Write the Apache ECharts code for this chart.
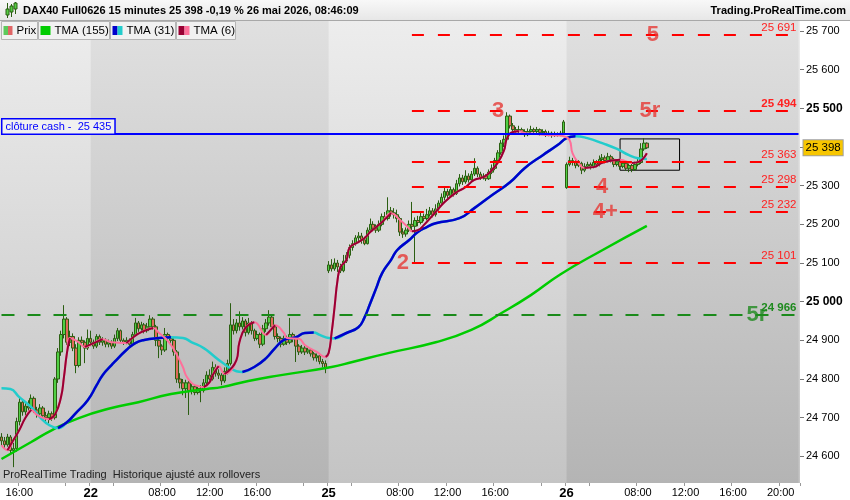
<!DOCTYPE html>
<html><head><meta charset="utf-8">
<script src="https://cdn.jsdelivr.net/npm/echarts/dist/echarts.min.js"></script>
<style>html,body{margin:0;padding:0;background:#fff}#c{width:850px;height:500px}</style>
</head><body><div id="c"></div>
<script>
// sessions: [day, first bar time, number of 15-min bars on the axis]
const sessions = [['21','14:30',30],['22','02:00',80],['25','02:00',80],['26','02:00',79]];

// OHLC rows: [open, close, low, high]
const candles = [
[24650,24640,24628,24660],[24640,24630,24620,24650],[24630,24650,24625,24658],[24650,24615,24608,24655],[24615,24620,24572,24635],
[24620,24690,24612,24700],[24690,24740,24680,24755],[24740,24715,24705,24748],[24715,24730,24705,24742],[24730,24725,24712,24745],
[24725,24750,24718,24760],[24750,24720,24712,24755],[24720,24710,24700,24728],[24710,24725,24702,24735],[24725,24705,24698,24730],
[24705,24700,24690,24715],[24700,24710,24685,24718],[24710,24700,24692,24716],[24700,24800,24695,24805],[24800,24870,24790,24880],
[24870,24915,24860,24925],[24915,24955,24905,24991],[24955,24895,24888,24960],[24895,24910,24885,24925],[24910,24880,24872,24918],
[24880,24835,24815,24890],[24835,24900,24830,24908],[24900,24895,24885,24910],[24895,24880,24841,24900],[24880,24905,24875,24928],
[24905,24895,24885,24925],[24895,24885,24878,24902],[24885,24910,24880,24916],[24910,24895,24888,24915],[24895,24900,24886,24908],
[24900,24890,24882,24905],[24890,24895,24882,24902],[24895,24885,24878,24900],[24885,24905,24880,24915],[24905,24925,24898,24932],
[24925,24900,24893,24928],[24900,24895,24888,24905],[24895,24900,24890,24908],[24900,24890,24884,24905],[24890,24915,24886,24922],
[24915,24945,24910,24958],[24945,24930,24922,24950],[24930,24940,24925,24948],[24940,24925,24918,24945],[24925,24935,24920,24945],
[24935,24955,24930,24965],[24955,24935,24928,24960],[24935,24900,24885,24940],[24900,24885,24854,24905],[24885,24875,24862,24890],
[24875,24915,24870,24932],[24915,24905,24898,24920],[24905,24900,24892,24912],[24900,24870,24860,24905],[24870,24800,24790,24875],
[24800,24790,24776,24815],[24790,24775,24758,24800],[24775,24790,24751,24798],[24790,24770,24707,24795],[24770,24780,24760,24788],
[24780,24765,24758,24786],[24765,24775,24760,24782],[24775,24770,24740,24784],[24770,24790,24765,24800],[24790,24810,24785,24820],
[24810,24800,24792,24825],[24800,24830,24796,24845],[24830,24815,24806,24838],[24815,24810,24800,24825],[24810,24795,24784,24815],
[24795,24820,24790,24830],[24820,24840,24812,24850],[24840,24940,24835,24996],[24940,24925,24915,24955],[24925,24945,24918,24955],
[24945,24935,24925,24975],[24935,24950,24928,24960],[24950,24920,24910,24955],[24920,24945,24915,24958],[24945,24925,24915,24950],
[24925,24905,24898,24930],[24905,24915,24900,24925],[24915,24890,24880,24920],[24890,24930,24885,24940],[24930,24945,24922,24955],
[24945,24960,24938,24978],[24960,24935,24928,24965],[24935,24910,24902,24940],[24910,24905,24895,24918],[24905,24890,24882,24910],
[24890,24905,24886,24912],[24905,24895,24888,24912],[24895,24915,24890,24958],[24915,24905,24895,24920],[24905,24885,24844,24910],
[24885,24870,24862,24890],[24870,24880,24865,24888],[24880,24870,24862,24885],[24870,24875,24865,24882],[24875,24865,24858,24880],
[24865,24855,24848,24870],[24855,24860,24845,24866],[24860,24845,24838,24864],[24845,24840,24830,24852],[24840,24830,24815,24848],
[25080,25095,25074,25105],[25095,25085,25078,25110],[25085,25100,25080,25112],[25100,25090,25077,25108],[25090,25080,25074,25098],
[25080,25105,25076,25121],[25105,25120,25100,25128],[25120,25140,25112,25148],[25140,25150,25132,25159],[25150,25165,25145,25172],
[25165,25170,25155,25180],[25170,25160,25150,25178],[25160,25150,25146,25168],[25150,25185,25148,25192],[25185,25200,25178,25215],
[25200,25190,25182,25208],[25190,25185,25178,25200],[25185,25200,25180,25210],[25200,25220,25195,25228],[25220,25215,25208,25232],
[25215,25235,25210,25270],[25235,25230,25220,25245],[25230,25225,25215,25242],[25225,25215,25205,25238],[25215,25180,25170,25220],
[25180,25175,25165,25190],[25175,25185,25168,25192],[25185,25200,25180,25210],[25200,25195,25185,25258],[25195,25210,25100,25218],
[25210,25205,25195,25222],[25205,25220,25200,25230],[25220,25215,25208,25228],[25215,25225,25210,25240],[25225,25235,25220,25245],
[25235,25225,25218,25242],[25225,25240,25220,25252],[25240,25255,25235,25262],[25255,25270,25250,25280],[25270,25285,25262,25294],
[25285,25275,25268,25292],[25275,25290,25270,25298],[25290,25280,25272,25295],[25280,25305,25276,25315],[25305,25320,25298,25330],
[25320,25310,25302,25328],[25310,25325,25305,25340],[25325,25315,25308,25332],[25315,25330,25310,25338],[25330,25345,25325,25371],
[25345,25330,25322,25350],[25330,25320,25315,25336],[25320,25325,25316,25332],[25325,25318,25312,25330],[25318,25335,25315,25342],
[25335,25345,25330,25355],[25345,25365,25340,25372],[25365,25385,25360,25392],[25385,25410,25380,25418],[25410,25420,25400,25430],
[25420,25480,25418,25490],[25480,25455,25448,25484],[25455,25445,25438,25462],[25445,25440,25432,25452],[25440,25445,25435,25455],
[25445,25440,25433,25450],[25440,25432,25426,25446],[25432,25440,25428,25448],[25440,25445,25435,25455],[25445,25440,25432,25450],
[25440,25445,25436,25452],[25445,25438,25430,25448],[25438,25440,25432,25446],[25440,25432,25426,25445],[25432,25436,25428,25442],
[25436,25430,25424,25440],[25430,25434,25426,25440],[25434,25432,25427,25438],[25432,25436,25428,25442],[25436,25465,25432,25470],
[25295,25355,25292,25360],[25355,25365,25350,25375],[25365,25360,25352,25372],[25360,25352,25345,25368],[25352,25358,25348,25366],
[25358,25340,25330,25362],[25340,25350,25335,25358],[25350,25355,25345,25362],[25355,25350,25342,25360],[25350,25360,25345,25368],
[25360,25355,25348,25366],[25355,25368,25350,25378],[25368,25372,25362,25382],[25372,25365,25358,25378],[25365,25375,25360,25385],
[25375,25368,25360,25380],[25368,25355,25348,25372],[25355,25362,25350,25368],[25362,25350,25342,25366],[25350,25358,25345,25364],
[25358,25345,25338,25362],[25345,25352,25335,25358],[25352,25342,25335,25356],[25342,25355,25338,25362],[25355,25360,25350,25370],
[25360,25395,25356,25410],[25395,25410,25390,25423],[25410,25398,25395,25412]
];

// indicator readings: [bar index, value]
const tma155 = [[0,24593],[10,24637],[17,24668],[26,24699],[37,24725],[46,24740],[57,24761],[69,24774],[74,24779],[83,24795],[94,24810],[111,24831],[118,24844],[130,24867],[146,24895],[158,24927],[168,24970],[178,25017],[188,25071],[202,25133],[217,25196]];
const tma31 = [[0,24776],[3,24774],[6,24753],[10,24727],[13,24701],[16,24681],[19,24673],[22,24688],[25,24712],[29,24745],[32,24784],[34,24810],[37,24836],[38,24844],[42,24875],[45,24893],[48,24901],[53,24906],[57,24908],[61,24906],[64,24895],[68,24880],[71,24862],[74,24844],[79,24820],[81,24818],[85,24831],[89,24854],[92,24880],[95,24901],[99,24908],[102,24919],[105,24920],[107,24914],[110,24906],[112,24905],[116,24919],[120,24934],[122,24958],[124,24996],[126,25035],[128,25074],[131,25108],[133,25133],[137,25159],[140,25180],[143,25193],[146,25203],[154,25216],[159,25242],[165,25276],[171,25309],[176,25346],[182,25379],[187,25405],[190,25423],[193,25428],[197,25423],[202,25410],[207,25395],[211,25379],[214,25371],[217,25369]];
const tma6 = [[0,24629],[2,24616],[4,24642],[6,24668],[8,24699],[10,24720],[12,24707],[16,24696],[18,24708],[20,24753],[21,24805],[22,24867],[23,24906],[26,24895],[28,24883],[31,24893],[34,24903],[37,24895],[42,24893],[44,24906],[47,24921],[51,24932],[53,24919],[55,24906],[57,24888],[59,24862],[61,24831],[62,24810],[64,24789],[66,24782],[68,24779],[70,24792],[71,24810],[73,24833],[75,24813],[79,24849],[80,24895],[82,24932],[85,24947],[89,24914],[92,24939],[95,24919],[96,24906],[100,24904],[102,24888],[106,24870],[109,24857],[110,24867],[111,24919],[112,24986],[113,25056],[114,25089],[116,25108],[117,25139],[120,25154],[122,25164],[124,25180],[126,25193],[128,25206],[131,25229],[134,25211],[137,25190],[138,25182],[140,25185],[142,25198],[146,25232],[149,25258],[153,25283],[156,25296],[159,25315],[162,25322],[164,25333],[167,25361],[169,25392],[170,25423],[172,25439],[174,25441],[176,25436],[180,25434],[183,25431],[187,25430],[189,25428],[191,25418],[192,25384],[194,25359],[196,25346],[199,25348],[202,25359],[206,25366],[208,25367],[212,25359],[214,25361],[217,25384]];

const redLevels = [25691, 25494, 25363, 25298, 25232, 25101];
const boldLevels = [25494];
const redLevelStart = 138;
const greenLevel = 24966;
const cashClose = 25435;
const lastPrice = 25398;
// [text, bar index, price, colour key]
const annotations = [['5',219,25691,'r'],['3',167,25494,'r'],['5r',218,25494,'r'],['4',202,25298,'r'],['4+',203,25232,'r'],['2',135,25101,'r'],['5r',254,24966,'g']];
const boxCorners = [[208,25421],[228,25340]];
const titleText = 'DAX40 Full0626 15 minutes 25 398 -0,19 % 26 mai 2026, 08:46:09';

// ---- build categories
const cats = [], dayStart = new Set(), hm = [];
sessions.forEach((s, si) => {
  const [h0, m0] = s[1].split(':').map(Number);
  for (let k = 0; k < s[2]; k++) {
    const t = h0 * 60 + m0 + 15 * k;
    const hh = Math.floor(t / 60), mm = t % 60;
    const lbl = String(hh).padStart(2, '0') + ':' + String(mm).padStart(2, '0');
    if (k === 0 && si > 0) dayStart.add(cats.length);
    hm.push([hh, mm, s[0], lbl]);
    cats.push(s[0] + ' ' + lbl);
  }
});
const lastCat = cats.length - 1;
const starts = [...dayStart];
const tickSet = new Set(), labelSet = new Set();
hm.forEach((v, i) => {
  const onHour = v[1] === 0 && v[0] % 4 === 0;
  if (dayStart.has(i)) { tickSet.add(i); labelSet.add(i); return; }
  if (onHour) {
    tickSet.add(i);
    if (!starts.some(s => Math.abs(s - i) < 10)) labelSet.add(i);
  }
});

const fmt = v => String(v).replace(/\B(?=(\d{3})+(?!\d))/g, ' ');
const FONT = '"Liberation Sans", Arial, sans-serif';
const RED = '#ff2020', BIGRED = '#e63a36', GREEN = '#1e8a1e';

// full line in the "falling" colour, rising runs drawn on top in the "rising" colour
function slopeSeries(pts, up, down, width, z) {
  const out = [{ type: 'line', z, smooth: true, showSymbol: false, silent: true, data: pts, lineStyle: { color: down, width } }];
  let runStart = -1;
  for (let k = 0; k < pts.length - 1; k++) {
    const rising = pts[k + 1][1] >= pts[k][1];
    if (rising && runStart < 0) runStart = k;
    if (!rising && runStart >= 0) {
      out.push({ type: 'line', z: z + 0.5, smooth: true, showSymbol: false, silent: true, data: pts.slice(runStart, k + 1), lineStyle: { color: up, width } });
      runStart = -1;
    }
  }
  if (runStart >= 0) out.push({ type: 'line', z: z + 0.5, smooth: true, showSymbol: false, silent: true, data: pts.slice(runStart), lineStyle: { color: up, width } });
  return out;
}

const vGrad = (a, b) => ({ type: 'linear', x: 0, y: 0, x2: 0, y2: 1, colorStops: [{ offset: 0, color: a }, { offset: 1, color: b }] });

// level lines
const levelLines = [];
redLevels.forEach(v => {
  const bold = boldLevels.includes(v);
  levelLines.push([{ coord: [redLevelStart, v], lineStyle: { color: '#ff0000', width: 2, type: [12, 14] },
    label: { show: true, position: 'insideEndTop', distance: [2, 1], formatter: fmt(v), color: RED, fontSize: 11.5, fontFamily: FONT, fontWeight: bold ? 'bold' : 'normal' } },
    { coord: [lastCat, v] }]);
});
levelLines.push([{ coord: [0, greenLevel], lineStyle: { color: '#1a8a1a', width: 2, type: [13, 13] },
  label: { show: true, position: 'insideEndTop', distance: [2, 1], formatter: fmt(greenLevel), color: GREEN, fontSize: 11.5, fontWeight: 'bold', fontFamily: FONT } },
  { coord: [lastCat, greenLevel] }]);
levelLines.push([{ coord: [0, cashClose], lineStyle: { color: '#0000ff', width: 2, type: 'solid' },
  label: { show: true, position: 'insideStartTop', distance: [1, 0], formatter: 'clôture cash -  ' + fmt(cashClose), color: '#0000ff', fontSize: 11, fontFamily: FONT,
    backgroundColor: '#f0f0f0', borderColor: '#0000ff', borderWidth: 1.5, padding: [2, 3, 1, 3] } },
  { coord: [lastCat, cashClose] }]);
levelLines.push([{ coord: [0, lastPrice], lineStyle: { color: 'rgba(0,0,0,0)', width: 1, type: 'solid' },
  label: { show: true, position: 'end', distance: 5, formatter: fmt(lastPrice), color: '#000', fontSize: 11.5, fontFamily: FONT,
    backgroundColor: '#f7c600', borderColor: '#a0a0a0', borderWidth: 1, padding: [2, 2, 1, 2] } },
  { coord: [lastCat, lastPrice] }]);

// graphics (header, legend, footer)
const g = [];
g.push({ type: 'rect', shape: { x: 0, y: 0, width: 850, height: 21 }, style: { fill: vGrad('#f8f8f8', '#e6e6e6') }, z: 10 });
g.push({ type: 'line', shape: { x1: 0, y1: 20.5, x2: 850, y2: 20.5 }, style: { stroke: '#a8a8a8', lineWidth: 1 }, z: 10 });
[[6, 9, 6, 3, 16], [10, 6, 6, 4, 15], [14, 3, 6, 2, 12]].forEach(c => {
  g.push({ type: 'line', shape: { x1: c[0] + 1.5, y1: c[3], x2: c[0] + 1.5, y2: c[4] + 2 }, style: { stroke: '#2b5e12', lineWidth: 1 }, z: 11 });
  g.push({ type: 'rect', shape: { x: c[0], y: c[1], width: 3, height: c[2] }, style: { fill: '#55cc44', stroke: '#2b5e12', lineWidth: 1 }, z: 11 });
});
g.push({ type: 'text', x: 23, y: 11, style: { text: titleText, font: 'bold 11px ' + FONT, fill: '#000', verticalAlign: 'middle' }, z: 11 });
g.push({ type: 'text', x: 846, y: 11, style: { text: 'Trading.ProRealTime.com', font: 'bold 11px ' + FONT, fill: '#000', verticalAlign: 'middle', align: 'right' }, z: 11 });
const legend = [[1, 36, [['#5cc95c', 4.5], ['#e06666', 4.5]], 'Prix'], [38, 71, [['#00cc00', 10]], 'TMA (155)'], [110, 65, [['#0000cc', 5], ['#22cccc', 5]], 'TMA (31)'], [176, 59, [['#990033', 6], ['#ff6f9a', 5]], 'TMA (6)']];
legend.forEach(L => {
  g.push({ type: 'rect', shape: { x: L[0] + 0.5, y: 21.5, width: L[1], height: 18 }, style: { fill: '#f1f1f1', stroke: '#b5b5b5', lineWidth: 1 }, z: 10 });
  let x = L[0] + 2.5;
  L[2].forEach(c => { g.push({ type: 'rect', shape: { x: x, y: 26, width: c[1], height: 9 }, style: { fill: c[0] }, z: 11 }); x += c[1]; });
  g.push({ type: 'text', x: x + 4, y: 31, style: { text: L[3], font: '11.5px ' + FONT, fill: '#000', verticalAlign: 'middle' }, z: 11 });
});
g.push({ type: 'text', x: 3, y: 475, style: { text: 'ProRealTime Trading  Historique ajusté aux rollovers', font: '11px ' + FONT, fill: '#222', verticalAlign: 'middle' }, z: 11 });

const series = [
  { type: 'line', z: 0, data: tma155, showSymbol: false, lineStyle: { color: 'rgba(0,0,0,0)', width: 0 }, silent: true,
    markArea: { silent: true, itemStyle: { color: vGrad('#e0e0e0', '#b4b4b4') },
      data: [[{ xAxis: cats[30] }, { xAxis: cats[110] }], [{ xAxis: cats[190] }, { xAxis: cats[lastCat] }]] } },
  { type: 'candlestick', z: 2, data: candles.map(r => [r[0], r[1], r[2], r[3]]), barWidth: 3,
    itemStyle: { color: '#50cf44', color0: '#e06a5a', borderColor: '#2b5e12', borderColor0: '#2b5e12', borderWidth: 1 } },
  { type: 'line', z: 3, data: tma155, smooth: true, showSymbol: false, silent: true, lineStyle: { color: '#00cc00', width: 2.5 } },
  ...slopeSeries(tma31, '#0000cc', '#22cccc', 2.5, 3),
  ...slopeSeries(tma6, '#990033', '#ff6f9a', 2, 4),
  { type: 'line', z: 5, data: tma155, showSymbol: false, lineStyle: { color: 'rgba(0,0,0,0)', width: 0 }, silent: true,
    markLine: { silent: true, symbol: ['none', 'none'], data: levelLines },
    markArea: { silent: true, itemStyle: { color: 'rgba(0,0,0,0)', borderColor: '#000', borderWidth: 1 },
      data: [[{ coord: boxCorners[0] }, { coord: boxCorners[1] }]] } },
  { type: 'scatter', z: 6, symbolSize: 1, itemStyle: { color: 'rgba(0,0,0,0)' }, silent: true,
    data: annotations.map(a => ({ name: a[0], value: [a[1], a[2]],
      label: { show: true, position: 'inside', formatter: '{b}', fontSize: 22, fontWeight: 'bold', fontFamily: FONT, color: a[3] === 'g' ? GREEN : BIGRED } })) }
];

const chart = echarts.init(document.getElementById('c'), null, { renderer: 'canvas' });
chart.setOption({
  animation: false,
  backgroundColor: '#ffffff',
  textStyle: { fontFamily: FONT },
  grid: { left: 0, right: 50, top: 21, bottom: 17, show: true, borderWidth: 0, backgroundColor: vGrad('#ededed', '#c4c4c4'), outerBoundsMode: 'none', containLabel: false },
  xAxis: {
    type: 'category', data: cats, boundaryGap: true,
    axisLine: { show: false },
    axisTick: { show: true, length: 3, interval: i => tickSet.has(i), lineStyle: { color: '#999' } },
    axisLabel: { interval: i => labelSet.has(i), margin: 4, color: '#000', fontSize: 11, fontFamily: FONT, hideOverlap: false,
      formatter: (v, i) => dayStart.has(i) ? '{d|' + hm[i][2] + '}' : hm[i][3],
      rich: { d: { fontWeight: 'bold', fontSize: 13, fontFamily: FONT, color: '#000' } } },
    splitLine: { show: false }
  },
  yAxis: {
    type: 'value', position: 'right', min: 24531, max: 25726, splitNumber: 12, minInterval: 100, maxInterval: 100,
    splitLine: { show: false }, axisLine: { show: false },
    axisTick: { show: true, length: 4, lineStyle: { color: '#777' } },
    axisLabel: { margin: 6, color: '#000', fontSize: 11, fontFamily: FONT, showMinLabel: false, showMaxLabel: false,
      formatter: v => (v % 100 !== 0) ? '' : (v % 500 === 0 ? '{b|' + fmt(v) + '}' : fmt(v)),
      rich: { b: { fontWeight: 'bold', fontSize: 12, fontFamily: FONT, color: '#000' } } }
  },
  series: series,
  graphic: g
});
</script></body></html>
